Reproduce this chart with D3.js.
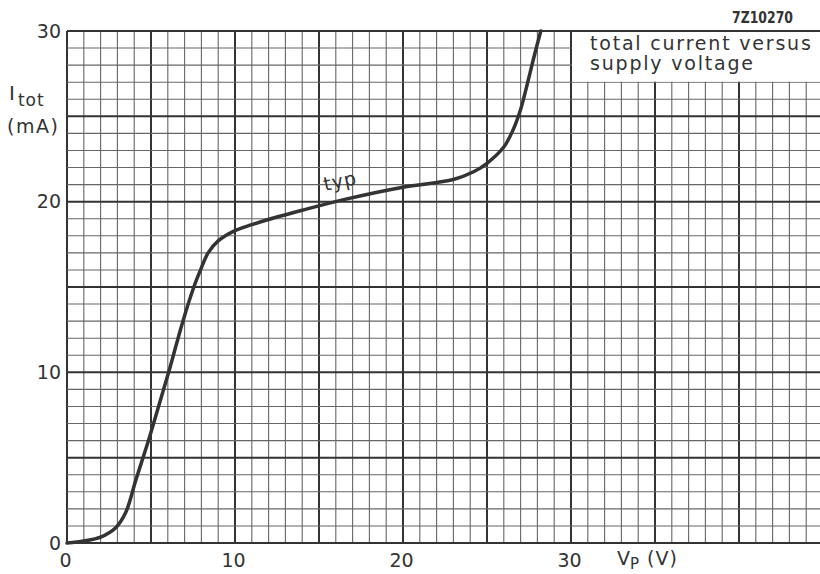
<!DOCTYPE html>
<html>
<head>
<meta charset="utf-8">
<script src="https://cdn.jsdelivr.net/npm/d3@7"></script>
<style>
  body { margin: 0; background: #fff; }
  svg text { font-family: "DejaVu Sans", sans-serif; fill: #333; }
</style>
</head>
<body>
<div id="chart"></div>
<script>
// supply voltage V_P (V) and total current I_tot (mA)
var vp   = [0, 1, 2, 2.9, 3.5, 4.1, 4.85, 5.45, 6.05, 6.9, 7.55, 7.95, 8.4, 9.0, 10, 11, 12.5, 14, 16.6, 20, 23, 24.2, 25, 26, 26.55, 27, 27.4, 27.75, 28.2];
var itot = [0, 0.12, 0.35, 0.9, 1.8, 3.7, 6, 8, 10, 13, 15, 16, 17, 17.7, 18.3, 18.65, 19.1, 19.5, 20.15, 20.85, 21.3, 21.75, 22.25, 23.2, 24.2, 25.4, 26.9, 28.3, 30];

var xTicks = [0, 10, 20, 30];
var yTicks = [0, 10, 20, 30];

var width = 820, height = 574;

var svg = d3.select("#chart").append("svg")
    .attr("width", width)
    .attr("height", height);

// 1 V and 1 mA per small square, the sheet runs on past the right edge
var x = d3.scaleLinear().domain([0, 45]).range([67, 823]);
var y = d3.scaleLinear().domain([0, 30]).range([543, 31]);

var grid = svg.append("g").attr("class", "grid");

grid.selectAll("line.v")
    .data(d3.range(0, 46))
    .enter().append("line")
    .attr("class", "v")
    .attr("x1", function (d) { return x(d); })
    .attr("x2", function (d) { return x(d); })
    .attr("y1", y(30))
    .attr("y2", y(0))
    .attr("stroke", function (d) { return d % 5 === 0 ? "#333" : "#666"; })
    .attr("stroke-width", function (d) { return d % 5 === 0 ? 2 : 1.1; });

grid.selectAll("line.h")
    .data(d3.range(0, 31))
    .enter().append("line")
    .attr("class", "h")
    .attr("x1", x(0))
    .attr("x2", x(45))
    .attr("y1", function (d) { return y(d); })
    .attr("y2", function (d) { return y(d); })
    .attr("stroke", function (d) { return d % 5 === 0 ? "#333" : "#666"; })
    .attr("stroke-width", function (d) { return d % 5 === 0 ? 2 : 1.1; });

// title box in the top right corner blanks out the grid
svg.append("rect")
    .attr("x", x(30) + 1)
    .attr("y", y(30) + 1)
    .attr("width", width - x(30))
    .attr("height", y(27) - y(30) - 1.5)
    .attr("fill", "#fff");

// axis labels only, no tick marks
var xAxis = svg.append("g")
    .attr("transform", "translate(0," + y(0) + ")")
    .call(d3.axisBottom(x).tickValues(xTicks).tickSize(0).tickPadding(11));
var yAxis = svg.append("g")
    .attr("transform", "translate(" + x(0) + ",0)")
    .call(d3.axisLeft(y).tickValues(yTicks).tickSize(0).tickPadding(6));

[xAxis, yAxis].forEach(function (a) {
    a.select(".domain").remove();
    a.selectAll("text")
        .attr("font-family", "DejaVu Sans")
        .attr("font-size", 19)
        .attr("fill", "#333");
});
xAxis.selectAll("text").attr("dx", "-2");

// the curve
var line = d3.line()
    .x(function (d) { return x(d[0]); })
    .y(function (d) { return y(d[1]); })
    .curve(d3.curveCatmullRom.alpha(0.5));

svg.append("path")
    .datum(d3.zip(vp, itot))
    .attr("d", line)
    .attr("fill", "none")
    .attr("stroke", "#333")
    .attr("stroke-width", 3.5)
    .attr("stroke-linecap", "round");

svg.append("text")
    .attr("transform", "translate(325,191) rotate(-12)")
    .attr("font-size", 19)
    .attr("letter-spacing", 1)
    .text("typ");

// y axis title
var yl = svg.append("text")
    .attr("x", 9)
    .attr("y", 100)
    .attr("font-size", 20);
yl.append("tspan").text("I");
yl.append("tspan").attr("dx", 3).attr("dy", 6).attr("font-size", 17).attr("letter-spacing", 1).text("tot");

svg.append("text")
    .attr("x", 7)
    .attr("y", 133)
    .attr("font-size", 19)
    .attr("letter-spacing", 1.5)
    .text("(mA)");

// x axis title
var xl = svg.append("text")
    .attr("x", 617)
    .attr("y", 565)
    .attr("font-size", 19);
xl.append("tspan").text("V");
xl.append("tspan").attr("dy", 4).attr("font-size", 15).text("P");
xl.append("tspan").attr("dy", -4).attr("dx", 8).attr("letter-spacing", 1).text("(V)");

// title
svg.append("text")
    .attr("x", 590)
    .attr("y", 50)
    .attr("font-size", 19)
    .attr("letter-spacing", 1.8)
    .text("total current versus");
svg.append("text")
    .attr("x", 590)
    .attr("y", 70)
    .attr("font-size", 19)
    .attr("letter-spacing", 1.8)
    .text("supply voltage");

svg.append("text")
    .attr("x", 732)
    .attr("y", 23)
    .attr("font-size", 16)
    .attr("font-weight", "bold")
    .attr("textLength", 61)
    .attr("lengthAdjust", "spacingAndGlyphs")
    .text("7Z10270");
</script>
</body>
</html>
